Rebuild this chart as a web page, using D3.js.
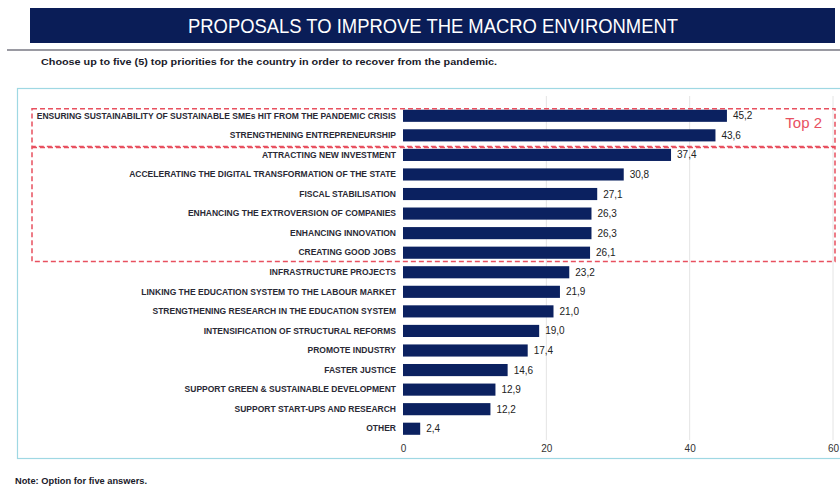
<!DOCTYPE html>
<html><head><meta charset="utf-8">
<script src="https://cdn.jsdelivr.net/npm/d3@7"></script>
<style>
body{margin:0;background:#fff;}
svg{display:block;}
</style></head>
<body>
<svg id="c" width="840" height="488"></svg>
<script>
const categories = [
  "ENSURING SUSTAINABILITY OF SUSTAINABLE SMEs HIT FROM THE PANDEMIC CRISIS",
  "STRENGTHENING ENTREPRENEURSHIP",
  "ATTRACTING NEW INVESTMENT",
  "ACCELERATING THE DIGITAL TRANSFORMATION OF THE STATE",
  "FISCAL STABILISATION",
  "ENHANCING THE EXTROVERSION OF COMPANIES",
  "ENHANCING INNOVATION",
  "CREATING GOOD JOBS",
  "INFRASTRUCTURE PROJECTS",
  "LINKING THE EDUCATION SYSTEM TO THE LABOUR MARKET",
  "STRENGTHENING RESEARCH IN THE EDUCATION SYSTEM",
  "INTENSIFICATION OF STRUCTURAL REFORMS",
  "PROMOTE INDUSTRY",
  "FASTER JUSTICE",
  "SUPPORT GREEN & SUSTAINABLE DEVELOPMENT",
  "SUPPORT START-UPS AND RESEARCH",
  "OTHER"
];
const values = [45.2, 43.6, 37.4, 30.8, 27.1, 26.3, 26.3, 26.1, 23.2, 21.9, 21.0, 19.0, 17.4, 14.6, 12.9, 12.2, 2.4];
const xTicks = [0, 20, 40, 60];
const titleText = "PROPOSALS TO IMPROVE THE MACRO ENVIRONMENT";
const subtitleText = "Choose up to five (5) top priorities for the country in order to recover from the pandemic.";
const noteText = "Note: Option for five answers.";
const boxLabel = "Top 2";

const svg = d3.select("#c");
const narrow = "'Liberation Sans Narrow','Arial Narrow','Liberation Sans',Arial,sans-serif";
const sans = "'Liberation Sans',Arial,sans-serif";
const navy = "#0b2160";

// header
svg.append("rect").attr("x",30).attr("y",8).attr("width",805).attr("height",35).attr("fill","#0a1d57");
svg.append("text").attr("x",433).attr("y",33).attr("text-anchor","middle")
  .attr("fill","#ffffff").attr("font-family",narrow).attr("font-size",20)
  .attr("textLength",490).attr("lengthAdjust","spacingAndGlyphs").text(titleText);
svg.append("line").attr("x1",7).attr("x2",840).attr("y1",50).attr("y2",50)
  .attr("stroke","#9a9aa2").attr("stroke-width",2);
svg.append("text").attr("x",41).attr("y",65).attr("fill","#1a1a2a")
  .attr("font-family",sans).attr("font-weight","bold").attr("font-size",8.5)
  .attr("textLength",456).attr("lengthAdjust","spacingAndGlyphs").text(subtitleText);

// chart frame
svg.append("rect").attr("x",17.5).attr("y",88.5).attr("width",830).attr("height",370)
  .attr("fill","none").attr("stroke","#9fd8e3").attr("stroke-width",1.2);

const x = d3.scaleLinear().domain([0,60]).range([403,833]);
const y = d3.scaleBand().domain(categories).range([106, 106 + 17*19.56]).paddingInner(0.38).paddingOuter(0.19);

// gridlines
svg.append("g").selectAll("line").data(xTicks.filter(t=>t>0)).join("line")
  .attr("x1",d=>x(d)).attr("x2",d=>x(d)).attr("y1",96).attr("y2",440)
  .attr("stroke","#e4e4e4").attr("stroke-width",1);

// bars
svg.append("g").selectAll("rect").data(values).join("rect")
  .attr("x",x(0)).attr("y",(d,i)=>y(categories[i]))
  .attr("width",d=>x(d)-x(0)).attr("height",y.bandwidth())
  .attr("fill",navy);

// value labels
svg.append("g").selectAll("text").data(values).join("text")
  .attr("x",d=>x(d)+6).attr("y",(d,i)=>y(categories[i])+y.bandwidth()/2+3.5)
  .attr("font-family",narrow).attr("font-size",10).attr("fill","#222")
  .text(d=>d.toFixed(1).replace(".",","));

// category labels
const yAxis = d3.axisLeft(y).tickSize(0).tickPadding(7);
const ga = svg.append("g").attr("transform",`translate(${x(0)},0)`).call(yAxis);
ga.select(".domain").remove();
ga.selectAll("text").attr("font-family",sans).attr("font-weight","bold")
  .attr("font-size",8.5).attr("fill","#2a2a35");

// x axis labels
const xAxis = d3.axisBottom(x).tickValues(xTicks).tickSize(0).tickPadding(0).tickFormat(d3.format("d"));
const gx = svg.append("g").attr("transform","translate(0,445)").call(xAxis);
gx.select(".domain").remove();
gx.selectAll("text").attr("font-family",narrow).attr("font-size",10).attr("fill","#333");

// dashed highlight boxes
const c = i => y(categories[i]) + y.bandwidth()/2;
const boxTop = c(0) - 7;
const boxMid = (c(1)+c(2))/2 + 1.5;
const boxBot = (c(7)+c(8))/2 - 1;
const red = "#e8505f";
svg.append("rect").attr("x",32).attr("y",boxTop).attr("width",803).attr("height",boxMid-boxTop)
  .attr("fill","none").attr("stroke",red).attr("stroke-width",1.5).attr("stroke-dasharray","5,3");
svg.append("rect").attr("x",32).attr("y",boxMid+1).attr("width",803).attr("height",boxBot-boxMid-1)
  .attr("fill","none").attr("stroke",red).attr("stroke-width",1.5).attr("stroke-dasharray","5,3");
svg.append("text").attr("x",822).attr("y",c(0)+12).attr("text-anchor","end")
  .attr("font-family",narrow).attr("font-size",15).attr("fill",red).text(boxLabel);

// note
svg.append("text").attr("x",15).attr("y",484).attr("fill","#1a1a2a")
  .attr("font-family",narrow).attr("font-weight","bold").attr("font-size",8.5)
  .attr("textLength",132).attr("lengthAdjust","spacingAndGlyphs").text(noteText);
</script>
</body></html>
